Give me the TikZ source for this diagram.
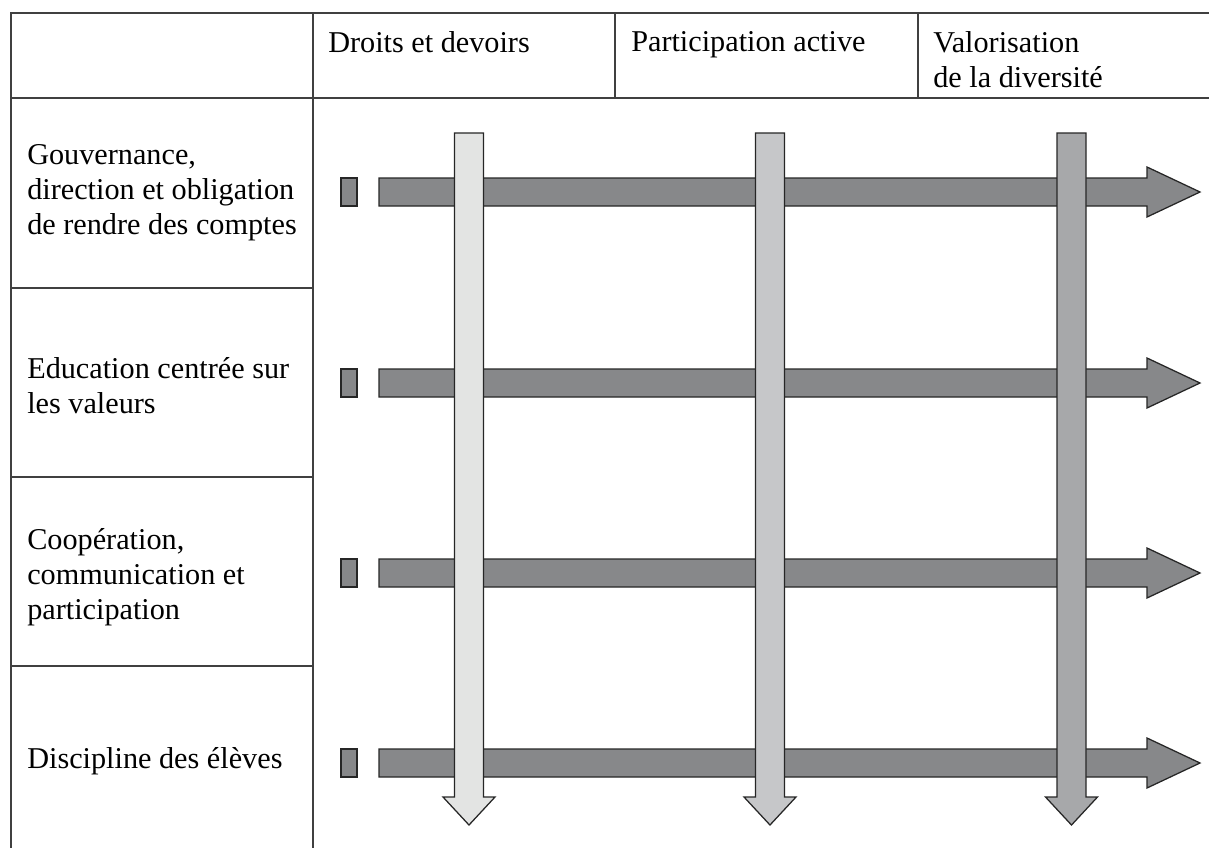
\documentclass[tikz,border=0pt]{standalone}
\usepackage{fontspec}
\setmainfont{Liberation Serif}
\definecolor{hgray}{HTML}{87888A}
\definecolor{vone}{HTML}{E3E4E3}
\definecolor{vtwo}{HTML}{C6C7C9}
\definecolor{vthree}{HTML}{A7A8AA}
\begin{document}
\begin{tikzpicture}[x=0.025cm,y=-0.025cm,
    rule/.style={draw=black!75,line width=1.1pt},
    bar/.style={draw=black!85,line width=0.9pt,fill=#1},
    lab/.style={inner sep=0pt,align=left,font=\fontsize{21.5}{25}\selectfont}]
    \useasboundingbox (0,0) rectangle (1209,848);
    % table lines
    \draw[rule] (1209,13) -- (11,13) -- (11,848);
    \draw[rule] (11,98) -- (1209,98);
    \draw[rule] (313,13) -- (313,848);
    \draw[rule] (615,13) -- (615,98);
    \draw[rule] (918,13) -- (918,98);
    \draw[rule] (11,288) -- (313,288) (11,477) -- (313,477) (11,666) -- (313,666);
    % headers
    \node[lab, anchor=north west] at (328,31) (dd) {Droits et devoirs};
    \node[lab, anchor=north west] at (631,31) (pa) {Participation active};
    \node[lab, anchor=north west] at (933,31) (vd) {Valorisation\\de la diversit\'e};
    % rows
    \node[lab, anchor=west] at (27,193) (gov) {Gouvernance,\\direction et obligation\\de rendre des comptes};
    \node[lab, anchor=west] at (27,386) (edu) {Education centr\'ee sur\\les valeurs};
    \node[lab, anchor=west] at (27,577) (coop) {Coop\'eration,\\communication et\\participation};
    \node[lab, anchor=west] at (27,761) (disc) {Discipline des \'el\`eves};
    % horizontal arrows
    \foreach \y in {192,383,573,763} {
        \draw[bar=hgray] (341,\y-14) rectangle (357,\y+14);
        \draw[bar=hgray] (379,\y-14) -- (1147,\y-14) -- (1147,\y-25) -- (1200,\y)
            -- (1147,\y+25) -- (1147,\y+14) -- (379,\y+14) -- cycle;
    }
    % vertical arrows
    \draw[bar=vone] (454.5,133) -- (483.5,133) -- (483.5,797) -- (495,797) -- (469,825)
        -- (443,797) -- (454.5,797) -- cycle;
    \draw[bar=vtwo] (755.5,133) -- (784.5,133) -- (784.5,797) -- (796,797) -- (770,825)
        -- (744,797) -- (755.5,797) -- cycle;
    \draw[bar=vthree] (1057,133) -- (1086,133) -- (1086,797) -- (1097.5,797) -- (1071.5,825)
        -- (1045.5,797) -- (1057,797) -- cycle;
\end{tikzpicture}
\end{document}
